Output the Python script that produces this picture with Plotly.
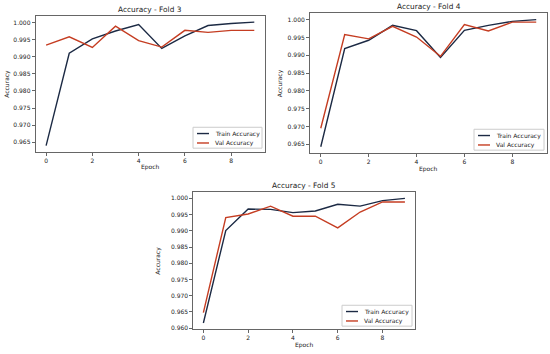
import plotly.graph_objects as go

epochs = list(range(10))

fold3_train = [0.9640, 0.9910, 0.9952, 0.9975, 0.9994, 0.9924, 0.9961, 0.9991, 0.9997, 1.0001]
fold3_val = [0.9934, 0.9958, 0.9927, 0.9989, 0.9947, 0.9928, 0.9977, 0.9971, 0.9977, 0.9977]

fold4_train = [0.9643, 0.9919, 0.9942, 0.9984, 0.9969, 0.9894, 0.9970, 0.9984, 0.9995, 1.0000]
fold4_val = [0.9695, 0.9958, 0.9946, 0.9981, 0.9951, 0.9897, 0.9986, 0.9968, 0.9993, 0.9993]

fold5_train = [0.9616, 0.9901, 0.9967, 0.9966, 0.9956, 0.9961, 0.9982, 0.9976, 0.9993, 1.0000]
fold5_val = [0.9648, 0.9941, 0.9952, 0.9976, 0.9945, 0.9945, 0.9909, 0.9958, 0.9989, 0.9989]

y_ticks_a = [0.965, 0.970, 0.975, 0.980, 0.985, 0.990, 0.995, 1.000]
y_ticks_b = [0.960, 0.965, 0.970, 0.975, 0.980, 0.985, 0.990, 0.995, 1.000]
x_ticks = [0, 2, 4, 6, 8]
series_names = ["Train Accuracy", "Val Accuracy"]

TRAIN_C = "#1c2a44"
VAL_C = "#c53d22"
TXT = "#222"
FONT = "DejaVu Sans"

W, H = 550, 354
def px(x):
    return x / W
def py(y):
    return 1 - y / H

panels = [
    dict(title="Accuracy - Fold 3", train=fold3_train, val=fold3_val,
         box=(35.7, 15.7, 264.7, 152.7), yr=[0.9622, 1.0020], yt=y_ticks_a,
         titley=10, xlab_y=168, ylab_x=7,
         leg=(193, 128, 262, 149)),
    dict(title="Accuracy - Fold 4", train=fold4_train, val=fold4_val,
         box=(310, 13.3, 547, 154), yr=[0.9625, 1.0018], yt=y_ticks_a,
         titley=7, xlab_y=170, ylab_x=280,
         leg=(474, 130, 544, 151)),
    dict(title="Accuracy - Fold 5", train=fold5_train, val=fold5_val,
         box=(193.3, 193.3, 415, 331), yr=[0.9597, 1.0019], yt=y_ticks_b,
         titley=187, xlab_y=347, ylab_x=158,
         leg=(342, 307, 412, 328)),
]

fig = go.Figure()
annotations = []
shapes = []
layout = dict(
    width=W, height=H,
    margin=dict(l=0, r=0, t=0, b=0),
    paper_bgcolor="white", plot_bgcolor="white",
    font=dict(family=FONT, size=6, color=TXT),
    showlegend=False,
)

for i, p in enumerate(panels):
    n = "" if i == 0 else str(i + 1)
    x0, y0, x1, y1 = p["box"]
    fig.add_trace(go.Scatter(x=epochs, y=p["train"], mode="lines", name=series_names[0],
                             line=dict(color=TRAIN_C, width=1.4),
                             xaxis="x" + n, yaxis="y" + n))
    fig.add_trace(go.Scatter(x=epochs, y=p["val"], mode="lines", name=series_names[1],
                             line=dict(color=VAL_C, width=1.4),
                             xaxis="x" + n, yaxis="y" + n))
    axcommon = dict(showline=True, linecolor="#666", linewidth=1, mirror=True,
                    showgrid=False, zeroline=False, ticks="outside", ticklen=3,
                    tickcolor="#666", tickfont=dict(size=6, color=TXT))
    layout["xaxis" + n] = dict(domain=[px(x0), px(x1)], range=[-0.45, 9.45],
                               tickvals=x_ticks, anchor="y" + n, **axcommon)
    layout["yaxis" + n] = dict(domain=[py(y1), py(y0)], range=p["yr"],
                               tickvals=p["yt"], tickformat=".3f", anchor="x" + n,
                               **axcommon)
    annotations.append(dict(text=p["title"], x=px((x0 + x1) / 2), y=py(p["titley"]),
                            xref="paper", yref="paper", showarrow=False,
                            xanchor="center", yanchor="middle",
                            font=dict(size=7.4, color=TXT)))
    annotations.append(dict(text="Epoch", x=px((x0 + x1) / 2), y=py(p["xlab_y"]),
                            xref="paper", yref="paper", showarrow=False,
                            xanchor="center", yanchor="middle",
                            font=dict(size=6, color=TXT)))
    annotations.append(dict(text="Accuracy", x=px(p["ylab_x"]), y=py((y0 + y1) / 2),
                            xref="paper", yref="paper", showarrow=False, textangle=-90,
                            xanchor="center", yanchor="middle",
                            font=dict(size=6, color=TXT)))
    # legend box
    lx0, ly0, lx1, ly1 = p["leg"]
    shapes.append(dict(type="rect", xref="paper", yref="paper",
                       x0=px(lx0), x1=px(lx1), y0=py(ly1), y1=py(ly0),
                       line=dict(color="#cccccc", width=1),
                       fillcolor="rgba(255,255,255,0.85)", layer="above"))
    rows = [ly0 + 6.3, ly0 + 15.8]
    for name, col, ry in zip(series_names, [TRAIN_C, VAL_C], rows):
        shapes.append(dict(type="line", xref="paper", yref="paper",
                           x0=px(lx0 + 4), x1=px(lx0 + 16), y0=py(ry), y1=py(ry),
                           line=dict(color=col, width=1.4), layer="above"))
        annotations.append(dict(text=name, x=px(lx0 + 20), y=py(ry),
                                xref="paper", yref="paper", showarrow=False,
                                xanchor="left", yanchor="middle",
                                font=dict(size=6, color=TXT)))

layout["annotations"] = annotations
layout["shapes"] = shapes
fig.update_layout(**layout)
fig.write_html("out.html",
               config={"displayModeBar": False},
               post_script="document.body.style.margin='0';document.body.style.overflow='hidden';")
